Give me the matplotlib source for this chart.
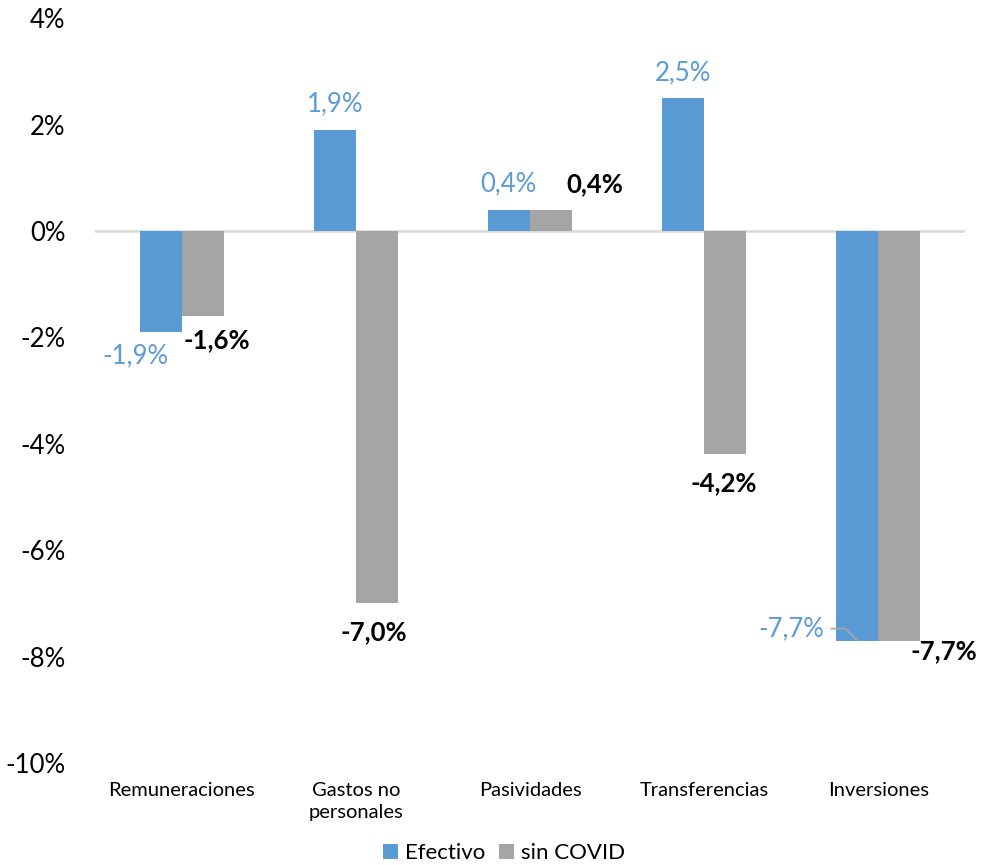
import numpy as np
import matplotlib.pyplot as plt

plt.rcParams['font.family'] = ['Lato', 'DejaVu Sans']

# Datos
categorias = ['Remuneraciones', 'Gastos no\npersonales', 'Pasividades',
              'Transferencias', 'Inversiones']
efectivo = [-1.9, 1.9, 0.4, 2.5, -7.7]
sin_covid = [-1.6, -7.0, 0.4, -4.2, -7.7]
yticks = [4, 2, 0, -2, -4, -6, -8, -10]

azul = '#5B9BD5'
gris = '#A5A5A5'

fig = plt.figure(figsize=(9.88, 8.65), dpi=100)
ax = fig.add_axes([0.096, 0.118, 0.881, 0.861])

x = np.arange(len(categorias))
w = 0.24
b1 = ax.bar(x - w / 2, efectivo, w, color=azul, label='Efectivo', zorder=2)
b2 = ax.bar(x + w / 2, sin_covid, w, color=gris, label='sin COVID', zorder=2)

ax.axhline(0, color='#D9D9D9', lw=1.8, zorder=1)

ax.set_xlim(-0.5, len(categorias) - 0.5)
ax.set_ylim(-10, 4)
ax.set_yticks(yticks)
ax.set_yticklabels(['%d%%' % t for t in yticks], fontsize=18.5)
ax.set_xticks(x)
ax.set_xticklabels(categorias, fontsize=14.5, linespacing=1.35)
ax.tick_params(axis='both', length=0)
ax.tick_params(axis='y', pad=21)
ax.tick_params(axis='x', pad=14)
for s in ax.spines.values():
    s.set_visible(False)


def fmt(v):
    return ('%.1f%%' % v).replace('.', ',')


# desplazamientos de etiquetas (pixeles)
off_ef = [(-26, -24), (0, 26), (-1, 26), (0, 25), (-66, 12)]
off_sc = [(14, -24), (-3, -29), (44, 26), (-1, -29), (45, -11)]

for i, v in enumerate(efectivo):
    arrow = None
    if i == 4:
        arrow = dict(arrowstyle='-', color='#A5A5A5', lw=1.2,
                     connectionstyle='angle,angleA=0,angleB=135,rad=0',
                     shrinkA=3, shrinkB=0)
    ax.annotate(fmt(v), xy=(x[i] - w / 2, v), xytext=off_ef[i],
                textcoords='offset pixels', ha='center', va='center',
                fontsize=18.5, color=azul, arrowprops=arrow)

for i, v in enumerate(sin_covid):
    ax.annotate(fmt(v), xy=(x[i] + w / 2, v), xytext=off_sc[i],
                textcoords='offset pixels', ha='center', va='center',
                fontsize=18.5, color='black', fontweight='bold')

fig.legend(handles=[b1, b2], loc='lower center', bbox_to_anchor=(0.51, -0.021),
           ncol=2, frameon=False, fontsize=16, handlelength=0.7,
           handleheight=0.7, handletextpad=0.3, columnspacing=0.6)

fig.savefig('out.png', dpi=100)
